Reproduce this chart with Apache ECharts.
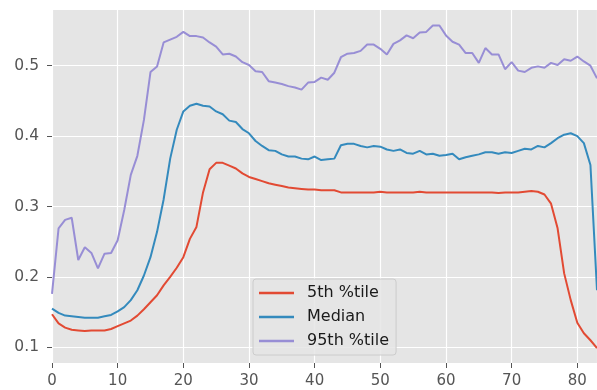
<!DOCTYPE html>
<html>
<head>
<meta charset="utf-8">
<script src="https://cdn.jsdelivr.net/npm/echarts@6/dist/echarts.min.js"></script>
<style>
  html, body { margin: 0; padding: 0; background: #ffffff; }
  #chart { width: 597px; height: 390px; }
</style>
</head>
<body>
<div id="chart"></div>
<script>
// Percentile curves sampled at steps 0..83
const pct05 = [
  0.147, 0.134, 0.128, 0.125, 0.124, 0.123, 0.124, 0.124, 0.124, 0.126,
  0.130, 0.134, 0.138, 0.145, 0.154, 0.164, 0.174, 0.188, 0.200, 0.213,
  0.228, 0.254, 0.271, 0.320, 0.353, 0.362, 0.362, 0.358, 0.354, 0.347,
  0.342, 0.339, 0.336, 0.333, 0.331, 0.329, 0.327, 0.326, 0.325, 0.324,
  0.324, 0.323, 0.323, 0.323, 0.320, 0.320, 0.320, 0.320, 0.320, 0.320,
  0.321, 0.320, 0.320, 0.320, 0.320, 0.320, 0.321, 0.320, 0.320, 0.320,
  0.320, 0.320, 0.320, 0.320, 0.320, 0.320, 0.320, 0.320, 0.319, 0.320,
  0.320, 0.320, 0.321, 0.322, 0.321, 0.317, 0.304, 0.269, 0.205, 0.167,
  0.135, 0.120, 0.110, 0.099
];
const median = [
  0.155, 0.149, 0.145, 0.144, 0.143, 0.142, 0.142, 0.142, 0.144, 0.146,
  0.151, 0.157, 0.167, 0.181, 0.202, 0.228, 0.264, 0.310, 0.368, 0.409,
  0.435, 0.443, 0.446, 0.443, 0.442, 0.435, 0.431, 0.422, 0.420, 0.410,
  0.404, 0.393, 0.386, 0.380, 0.379, 0.374, 0.371, 0.371, 0.368, 0.367,
  0.371, 0.366, 0.367, 0.368, 0.387, 0.389, 0.389, 0.386, 0.384, 0.386,
  0.385, 0.381, 0.379, 0.381, 0.376, 0.375, 0.379, 0.374, 0.375, 0.372,
  0.373, 0.375, 0.367, 0.370, 0.372, 0.374, 0.377, 0.377, 0.375, 0.377,
  0.376, 0.379, 0.382, 0.381, 0.386, 0.384, 0.390, 0.397, 0.402, 0.404,
  0.400, 0.390, 0.359, 0.181
];
const pct95 = [
  0.176, 0.269, 0.281, 0.284, 0.224, 0.242, 0.234, 0.212, 0.233, 0.234,
  0.252, 0.295, 0.345, 0.372, 0.423, 0.491, 0.499, 0.533, 0.537, 0.541,
  0.548, 0.542, 0.542, 0.540, 0.533, 0.527, 0.516, 0.517, 0.513, 0.505,
  0.501, 0.492, 0.491, 0.478, 0.476, 0.474, 0.471, 0.469, 0.466, 0.476,
  0.477, 0.483, 0.480, 0.490, 0.512, 0.517, 0.518, 0.521, 0.530, 0.530,
  0.524, 0.516, 0.531, 0.536, 0.543, 0.539, 0.547, 0.548, 0.557, 0.557,
  0.543, 0.534, 0.530, 0.518, 0.518, 0.504, 0.525, 0.516, 0.516, 0.495,
  0.505, 0.493, 0.491, 0.497, 0.499, 0.497, 0.504, 0.501, 0.509, 0.507,
  0.513, 0.506, 0.500, 0.482
];
const seriesNames = ['5th %tile', 'Median', '95th %tile'];
const seriesColors = ['#E24A33', '#348ABD', '#988ED5'];
const yTicks = [0.1, 0.2, 0.3, 0.4, 0.5];
const xTickStep = 10;

const FONT = 'DejaVu Sans';
const toPairs = arr => arr.map((v, i) => [i, v]);

const chart = echarts.init(document.getElementById('chart'), null, { renderer: 'canvas' });
chart.setOption({
  animation: false,
  backgroundColor: '#ffffff',
  grid: {
    left: 52, right: 0, top: 10, bottom: 27,
    show: true, backgroundColor: '#E5E5E5', borderWidth: 0
  },
  xAxis: {
    type: 'value',
    min: 0, max: 83, interval: xTickStep,
    axisLine: { show: false },
    axisTick: { show: true, length: 5, lineStyle: { color: '#555555', width: 1 } },
    axisLabel: { color: '#555555', fontFamily: FONT, fontSize: 15, margin: 11,
      showMaxLabel: false },
    splitLine: { show: true, lineStyle: { color: '#ffffff', width: 1.2 } }
  },
  yAxis: {
    type: 'value',
    min: 0.0777, max: 0.5791,
    axisLine: { show: false },
    axisTick: { show: true, length: 5, customValues: yTicks,
      lineStyle: { color: '#555555', width: 1 } },
    axisLabel: { color: '#555555', fontFamily: FONT, fontSize: 15.5, margin: 13,
      customValues: yTicks, formatter: v => v.toFixed(1) },
    splitLine: { show: true, lineStyle: { color: '#ffffff', width: 1.2 } }
  },
  legend: {
    orient: 'vertical',
    left: 253, top: 279,
    padding: [5, 7, 5, 6],
    itemGap: 6,
    itemWidth: 35, itemHeight: 2.5,
    icon: 'rect',
    backgroundColor: 'rgba(229,229,229,0.85)',
    borderColor: '#CCCCCC', borderWidth: 1, borderRadius: 3,
    textStyle: { color: '#1a1a1a', fontFamily: FONT, fontSize: 16, lineHeight: 18,
      padding: [0, 0, 0, 8] },
    data: seriesNames
  },
  series: [pct05, median, pct95].map((arr, k) => ({
    name: seriesNames[k],
    type: 'line',
    data: toPairs(arr),
    showSymbol: false,
    symbol: 'none',
    color: seriesColors[k],
    lineStyle: { color: seriesColors[k], width: 2 },
    clip: true
  }))
});
</script>
</body>
</html>
